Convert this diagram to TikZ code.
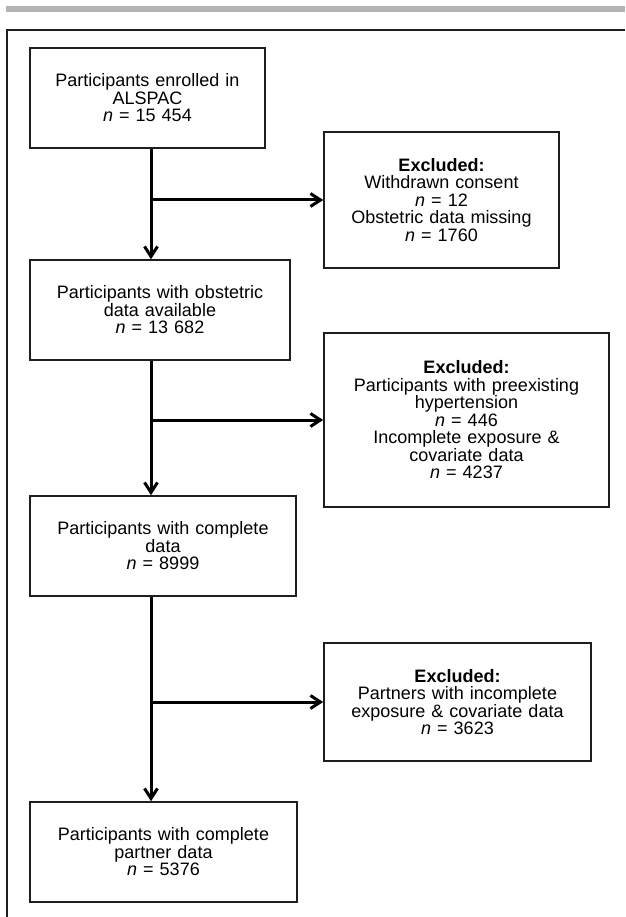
\documentclass[tikz,border=0pt]{standalone}
\usepackage{fontspec}
\setmainfont{Liberation Sans}
\usetikzlibrary{arrows.meta}
\definecolor{bargray}{HTML}{B3B3B3}
\definecolor{ink}{HTML}{1E1E1E}
\begin{document}
\begin{tikzpicture}[x=1pt,y=-1pt,
  box/.style={draw=ink, line width=1.6pt, align=center, inner sep=0pt,
    minimum height=100pt, text width=220pt,
    font=\fontsize{18pt}{17.5pt}\selectfont},
  exbox/.style={box},
  arr/.style={line width=3pt, draw=black, -{Straight Barb[length=10pt,width=13pt]}},
  frameline/.style={draw=ink, line width=2pt}]
\useasboundingbox (0,0) rectangle (625,917);
% top gray bar and frame
\fill[bargray] (6,6) rectangle (625,12);
\draw[frameline] (7,917) -- (7,30) -- (625,30);
% main boxes
\node[box, minimum width=235pt] (b1) at (147.5,98)
  {Participants enrolled in\\ALSPAC\\\textit{n} = 15 454};
\node[box, minimum width=260pt] (b2) at (160,310)
  {Participants with obstetric\\data available\\\textit{n} = 13 682};
\node[box, minimum width=266pt] (b3) at (163,546)
  {Participants with complete\\data\\\textit{n} = 8999};
\node[box, minimum width=267pt] (b4) at (163.5,852)
  {Participants with complete\\partner data\\\textit{n} = 5376};
% exclusion boxes
\node[exbox, minimum width=235pt, minimum height=136pt] (e1) at (441.5,200)
  {\textbf{Excluded:}\\Withdrawn consent\\\textit{n} = 12\\Obstetric data missing\\\textit{n} = 1760};
\node[exbox, minimum width=285pt, minimum height=174pt, text width=270pt] (e2) at (466.5,420)
  {\textbf{Excluded:}\\Participants with preexisting\\hypertension\\\textit{n} = 446\\Incomplete exposure \&\\covariate data\\\textit{n} = 4237};
\node[exbox, minimum width=267pt, minimum height=118pt, text width=250pt] (e3) at (457.5,702)
  {\textbf{Excluded:}\\Partners with incomplete\\exposure \& covariate data\\\textit{n} = 3623};
% connectors
\coordinate (ax) at (151,0);
\draw[arr] (b1.south -| ax) -- (b2.north -| ax);
\draw[arr] (e1.west -| ax) -- (e1.west);
\draw[arr] (b2.south -| ax) -- (b3.north -| ax);
\draw[arr] (e2.west -| ax) -- (e2.west);
\draw[arr] (b3.south -| ax) -- (b4.north -| ax);
\draw[arr] (e3.west -| ax) -- (e3.west);
\end{tikzpicture}
\end{document}
